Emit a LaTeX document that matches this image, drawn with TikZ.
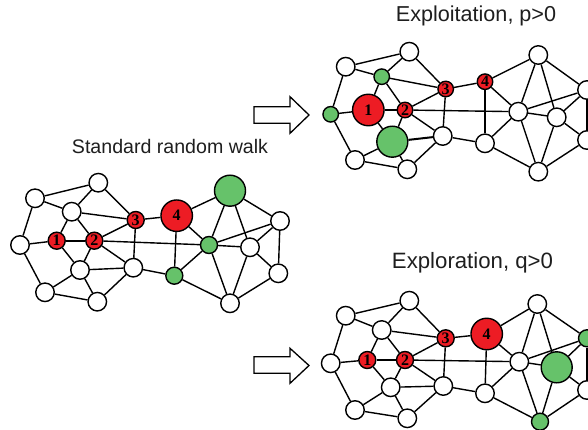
\documentclass[tikz,border=0pt]{standalone}
\usepackage{fontspec}
\setmainfont{Liberation Sans}
\newfontfamily\numfont{Liberation Serif}
\definecolor{rnode}{RGB}{237,28,36}
\definecolor{gnode}{RGB}{102,194,106}
\definecolor{txt}{RGB}{30,30,30}
\begin{document}
\begin{tikzpicture}[x=1pt,y=-1pt,
  edge/.style={line width=1.4pt,black},
  hedge/.style={line width=2pt,black},
  vtx/.style={circle,draw=black,line width=1.4pt,inner sep=0pt,
    font=\numfont\bfseries\fontsize{16}{16}\selectfont},
  wn/.style={vtx,fill=white,minimum size=18.5pt},
  rs/.style={vtx,fill=rnode,minimum size=17pt},
  rss/.style={vtx,fill=rnode,minimum size=15.5pt},
  rb/.style={vtx,fill=rnode,minimum size=31.5pt},
  gs/.style={vtx,fill=gnode,minimum size=17pt},
  gss/.style={vtx,fill=gnode,minimum size=15.5pt},
  gb/.style={vtx,fill=gnode,minimum size=31pt},
  lbl/.style={text=txt,inner sep=0pt},
  bigarrow/.style={draw=black,line width=1.3pt,fill=white,line join=miter}]
\clip (0,0) rectangle (588,430);
% ---------- labels ----------
\node[lbl,font=\fontsize{19.6}{20}\selectfont] (lblS) at (170,146) {Standard random walk};
\node[lbl,font=\fontsize{21.6}{22}\selectfont] (lblT) at (476,16) {Exploitation, p>0};
\node[lbl,font=\fontsize{22.2}{22}\selectfont] (lblB) at (472.5,263) {Exploration, q>0};
% ---------- block arrows ----------
\draw[bigarrow] (254,106.7) -- (290,106.7) -- (290,96.7) -- (309,115) -- (290,133.3) -- (290,123.3) -- (254,123.3) -- cycle;
\draw[bigarrow] (254,356.7) -- (290,356.7) -- (290,348.3) -- (309,365.5) -- (290,383.3) -- (290,373.3) -- (254,373.3) -- cycle;
% ---------- left graph ----------
\node[wn] (LA) at (35,198.3) {};
\node[wn] (LB) at (98.3,182.7) {};
\node[wn] (LC) at (71.7,211.7) {};
\node[wn] (LD) at (20,245) {};
\node[rs] (Ln1) at (56.7,240.7) {1};
\node[rs] (Ln2) at (94.3,240.7) {2};
\node[rs] (Ln3) at (135.7,220) {3};
\node[rb] (Ln4) at (176.7,215.7) {4};
\node[gb] (LG1) at (230,190.7) {};
\node[wn] (LE) at (80,270) {};
\node[wn] (LF) at (133.3,267.7) {};
\node[wn] (LH) at (45,292.3) {};
\node[wn] (LI) at (97.3,301.7) {};
\node[gs] (LG2) at (174.3,275.7) {};
\node[gs] (LG3) at (209,245) {};
\node[wn] (LJ) at (280,221) {};
\node[wn] (LK) at (250,247.3) {};
\node[wn] (LL) at (278.3,273.3) {};
\node[wn] (LM) at (230,303.3) {};
% ---------- top-right graph ----------
\node[wn] (TA) at (345.7,66.7) {};
\node[wn] (TB) at (409.3,51.7) {};
\node[gss] (TC) at (381.7,76.7) {};
\node[gss] (TD) at (330.7,114.3) {};
\node[rb] (Tn1) at (368.3,110) {1};
\node[rss] (Tn2) at (405,110) {2};
\node[rss] (Tn3) at (445.7,89) {3};
\node[rss] (Tn4) at (485,81.7) {4};
\node[wn] (TG1) at (538.3,55) {};
\node[gb] (TE) at (392.3,141.7) {};
\node[wn] (TF) at (442.7,136) {};
\node[wn] (TH) at (355,160) {};
\node[wn] (TI) at (407.3,169.3) {};
\node[wn] (TG2) at (485,143.3) {};
\node[wn] (TG3) at (518.3,111.7) {};
\node[wn] (TJ) at (587,90) {};
\node[wn] (TK) at (556.7,117.3) {};
\node[wn] (TL) at (587,140) {};
\node[wn] (TM) at (538.3,171.7) {};
% ---------- bottom-right graph ----------
\node[wn] (BA) at (345.7,315.7) {};
\node[wn] (BB) at (409.3,300.7) {};
\node[wn] (BC) at (381.7,330) {};
\node[wn] (BD) at (330.7,363.3) {};
\node[rs] (Bn1) at (367.3,360) {1};
\node[rs] (Bn2) at (405,360) {2};
\node[rs] (Bn3) at (445.7,338.3) {3};
\node[rb] (Bn4) at (486.7,334) {4};
\node[wn] (BG1) at (537.3,304) {};
\node[wn] (BE) at (390.7,387.3) {};
\node[wn] (BF) at (443.3,386) {};
\node[wn] (BH) at (355,410) {};
\node[wn] (BI) at (407.3,418.3) {};
\node[wn] (BG2) at (485,393.3) {};
\node[wn] (BG3) at (519.3,361.7) {};
\node[gs] (BJ) at (587,338.3) {};
\node[gb] (BK) at (556.7,367.3) {};
\node[wn] (BL) at (587,390) {};
\node[gs] (BM) at (540,421.7) {};
% ---------- edges ----------
\foreach \p in {L,T,B}{
  \foreach \a/\b in {A/B,A/C,A/D,B/C,B/n3,C/n3,C/n1,C/n2,D/n1,D/H,n1/E,
      n2/n3,n2/E,n2/F,n2/G3,n3/F,n3/n4,n4/G2,n4/G3,n4/G1,E/H,E/I,F/I,H/I,
      F/G2,G2/G3,G2/M,G1/G3,G1/K,G1/J,G3/J,G3/K,G3/M,K/J,K/L,K/M,J/L,L/M}
    \draw[edge] (\p\a) -- (\p\b);
}
\draw[edge] (Tn1) -- (Tn2);
\draw[hedge] (Ln1) -- (Ln2);
\draw[hedge] (Bn1) -- (Bn2);
\draw[edge] (LE) -- (LF);
\draw[hedge] (TE) -- (TF);
\draw[edge] (BE) -- (BF);
\end{tikzpicture}
\end{document}
